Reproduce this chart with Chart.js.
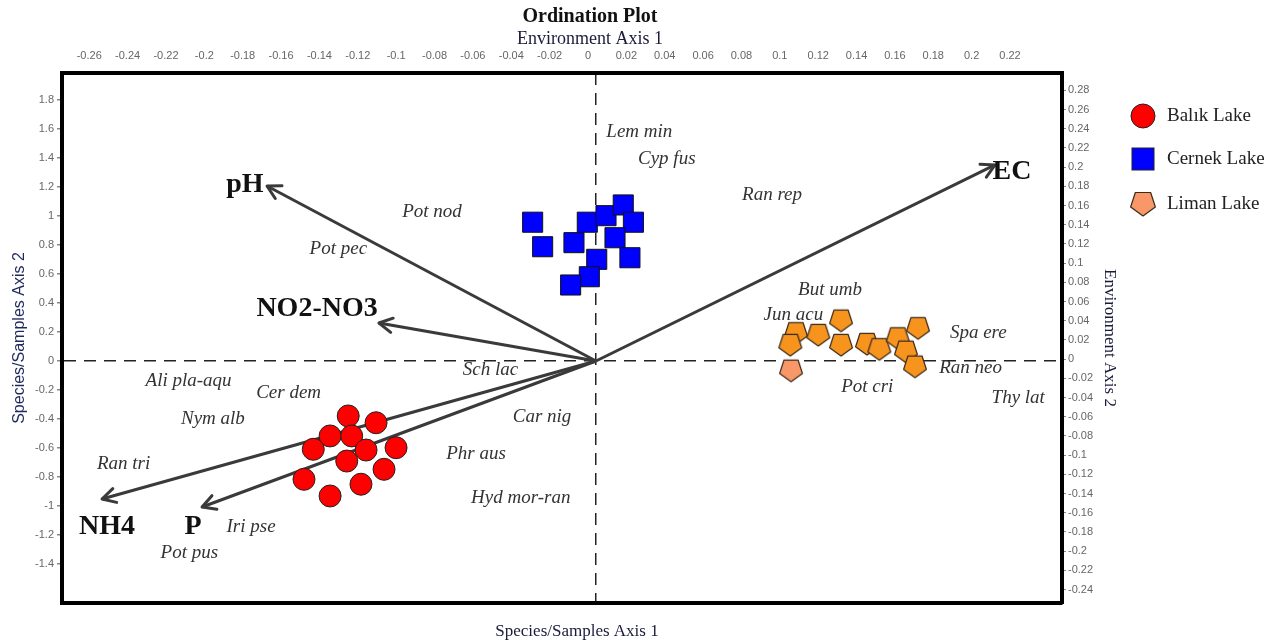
<!DOCTYPE html>
<html lang="en">
<head>
    <meta charset="UTF-8">
    <title>Ordination Plot</title>
    <script src="https://cdn.jsdelivr.net/npm/chart.js"></script>
    <style>
        body {
            margin: 0;
            background: #ffffff;
        }
        #wrap {
            width: 1279px;
            height: 643px;
            position: relative;
        }
    </style>
</head>
<body>
    <div id="wrap">
        <canvas id="ordChart"></canvas>
    </div>

    <script>
        // sample scores (Species/Samples axes)
        const balikX = [-1.709, -1.517, -1.834, -1.685, -1.950, -1.586, -1.379, -1.719, -1.462, -2.014, -1.621, -1.834];
        const balikY = [-0.379, -0.426, -0.517, -0.517, -0.609, -0.614, -0.598, -0.690, -0.747, -0.816, -0.850, -0.931];
        const cernekX = [-0.437, -0.368, -0.060, 0.069, 0.188, 0.258, -0.152, 0.131, 0.005, 0.234, -0.046, -0.175];
        const cernekY = [0.957, 0.788, 0.957, 1.002, 1.076, 0.957, 0.816, 0.850, 0.701, 0.712, 0.581, 0.524];
        const limanX = [1.690, 1.379, 1.533, 2.221, 1.340, 1.690, 1.869, 1.954, 2.081, 2.138, 2.200, 1.345];
        const limanY = [0.278, 0.191, 0.179, 0.226, 0.110, 0.110, 0.117, 0.081, 0.156, 0.064, -0.039, -0.067];

        // species scores
        const speciesNames = ['Lem min', 'Cyp fus', 'Ran rep', 'Pot nod', 'Pot pec', 'But umb', 'Jun acu', 'Spa ere',
            'Ran neo', 'Thy lat', 'Pot cri', 'Sch lac', 'Car nig', 'Ali pla-aqu', 'Cer dem', 'Nym alb', 'Ran tri',
            'Phr aus', 'Hyd mor-ran', 'Iri pse', 'Pot pus'];
        const speciesX = [0.299, 0.488, 1.214, -1.131, -1.777, 1.614, 1.361, 2.637, 2.584, 2.912, 1.871, -0.728,
            -0.372, -2.810, -2.120, -2.642, -3.258, -0.828, -0.519, -2.379, -2.805];
        const speciesY = [1.581, 1.391, 1.145, 1.028, 0.770, 0.490, 0.317, 0.191, -0.050, -0.253, -0.177, -0.062,
            -0.384, -0.136, -0.219, -0.402, -0.710, -0.641, -0.947, -1.143, -1.322];

        // environmental arrows
        const envNames = ['pH', 'EC', 'NO2-NO3', 'NH4', 'P'];
        const envTipX = [-2.269, 2.752, -1.497, -3.407, -2.717];
        const envTipY = [1.207, 1.352, 0.262, -0.952, -1.007];
        const envLabelX = [-2.421, 2.869, -1.924, -3.372, -2.779];
        const envLabelY = [1.214, 1.303, 0.359, -1.143, -1.143];

        // tick labels
        const leftTicks = [1.8, 1.6, 1.4, 1.2, 1, 0.8, 0.6, 0.4, 0.2, 0, -0.2, -0.4, -0.6, -0.8, -1, -1.2, -1.4];
        const topTicks = [-0.26, -0.24, -0.22, -0.2, -0.18, -0.16, -0.14, -0.12, -0.1, -0.08, -0.06, -0.04, -0.02,
            0, 0.02, 0.04, 0.06, 0.08, 0.1, 0.12, 0.14, 0.16, 0.18, 0.2, 0.22];
        const rightTicks = [0.28, 0.26, 0.24, 0.22, 0.2, 0.18, 0.16, 0.14, 0.12, 0.1, 0.08, 0.06, 0.04, 0.02, 0,
            -0.02, -0.04, -0.06, -0.08, -0.1, -0.12, -0.14, -0.16, -0.18, -0.2, -0.22, -0.24];

        const limanFaded = [false, false, false, false, false, false, false, false, false, false, false, true];

        const serif = "'Liberation Serif', 'Times New Roman', serif";
        const sans = "'Liberation Sans', Arial, sans-serif";
        const tickFont = { family: sans, size: 11 };

        // pentagon marker (point down) as an image point style
        function makePentagon(fill, size) {
            const c = document.createElement('canvas');
            c.width = size + 4;
            c.height = size + 4;
            const g = c.getContext('2d');
            const cx = c.width / 2, cy = c.height / 2 - 1, r = size / 2;
            g.beginPath();
            for (let k = 0; k < 5; k++) {
                const a = Math.PI / 2 + k * 2 * Math.PI / 5;
                const px = cx + r * Math.cos(a), py = cy + r * Math.sin(a);
                if (k === 0) g.moveTo(px, py); else g.lineTo(px, py);
            }
            g.closePath();
            g.lineJoin = 'round';
            g.fillStyle = fill;
            g.fill();
            g.lineWidth = 1.2;
            g.strokeStyle = '#3a2a1a';
            g.stroke();
            return c;
        }
        const pentOrange = makePentagon('#f7941e', 24);
        const pentSalmon = makePentagon('#f89868', 24);
        const pentLegend = makePentagon('#f89868', 26);

        const toPoints = (xs, ys) => xs.map((x, i) => ({ x: x, y: ys[i] }));

        function fixTicks(values) {
            return function (axis) {
                axis.ticks = values.map(v => ({ value: v }));
            };
        }
        const fmt = v => parseFloat(Number(v).toFixed(2)).toString();

        const arrowSets = envNames.map((name, i) => ({
            type: 'line',
            label: name,
            data: [{ x: 0, y: 0 }, { x: envTipX[i], y: envTipY[i] }],
            borderColor: '#3a3a3a',
            borderWidth: 3,
            pointRadius: 0,
            fill: false,
            order: 5
        }));

        // arrowheads, labels, titles and legend
        const decorPlugin = {
            id: 'decor',
            afterDatasetsDraw(chart) {
                const c = chart.ctx;
                const sx = chart.scales.x, sy = chart.scales.y;
                const ox = sx.getPixelForValue(0), oy = sy.getPixelForValue(0);

                c.save();
                c.strokeStyle = '#3a3a3a';
                c.lineWidth = 3;
                c.lineCap = 'round';
                c.lineJoin = 'round';
                envNames.forEach((n, i) => {
                    const tx = sx.getPixelForValue(envTipX[i]);
                    const ty = sy.getPixelForValue(envTipY[i]);
                    const ang = Math.atan2(ty - oy, tx - ox);
                    const len = 15, spread = 0.5;
                    c.beginPath();
                    c.moveTo(tx - len * Math.cos(ang - spread), ty - len * Math.sin(ang - spread));
                    c.lineTo(tx, ty);
                    c.lineTo(tx - len * Math.cos(ang + spread), ty - len * Math.sin(ang + spread));
                    c.stroke();
                });

                c.textAlign = 'center';
                c.textBaseline = 'middle';
                c.fillStyle = '#333333';
                c.font = 'italic 19px ' + serif;
                speciesNames.forEach((n, i) => {
                    c.fillText(n, sx.getPixelForValue(speciesX[i]), sy.getPixelForValue(speciesY[i]));
                });

                c.fillStyle = '#111111';
                c.font = 'bold 28px ' + serif;
                envNames.forEach((n, i) => {
                    c.fillText(n, sx.getPixelForValue(envLabelX[i]), sy.getPixelForValue(envLabelY[i]));
                });
                c.restore();
            },
            afterDraw(chart) {
                const c = chart.ctx;
                c.save();
                c.textAlign = 'center';
                c.textBaseline = 'middle';
                c.fillStyle = '#111111';
                c.font = 'bold 20px ' + serif;
                c.fillText('Ordination Plot', 590, 17);
                c.fillStyle = '#1a1a3a';
                c.font = '18px ' + serif;
                c.fillText('Environment Axis 1', 590, 39);
                c.font = '17px ' + serif;
                c.fillText('Species/Samples Axis 1', 577, 632);

                // legend
                const lx = 1143, tx = 1167;
                const rows = [116, 159, 204];
                c.lineWidth = 1;
                c.strokeStyle = '#222222';
                c.fillStyle = '#ff0000';
                c.beginPath();
                c.arc(lx, rows[0], 12, 0, Math.PI * 2);
                c.fill();
                c.stroke();
                c.fillStyle = '#0000ff';
                c.fillRect(lx - 11, rows[1] - 11, 22, 22);
                c.strokeRect(lx - 11, rows[1] - 11, 22, 22);
                c.drawImage(pentLegend, lx - pentLegend.width / 2, rows[2] - pentLegend.height / 2);

                c.textAlign = 'left';
                c.fillStyle = '#222222';
                c.font = '19px ' + serif;
                c.fillText('Balık Lake', tx, rows[0]);
                c.fillText('Cernek Lake', tx, rows[1]);
                c.fillText('Liman Lake', tx, rows[2]);
                c.restore();
            }
        };

        const ctx = document.getElementById('ordChart').getContext('2d');
        const chart = new Chart(ctx, {
            type: 'scatter',
            data: {
                datasets: [
                    {
                        label: 'Balık Lake',
                        data: toPoints(balikX, balikY),
                        pointStyle: 'circle',
                        pointRadius: 11,
                        backgroundColor: '#ff0000',
                        borderColor: '#222222',
                        borderWidth: 1,
                        order: 0
                    },
                    {
                        label: 'Cernek Lake',
                        data: toPoints(cernekX, cernekY),
                        pointStyle: 'rect',
                        pointRadius: 14.2,
                        backgroundColor: '#0000ff',
                        borderColor: '#111111',
                        borderWidth: 1,
                        order: 0
                    },
                    {
                        label: 'Liman Lake',
                        data: toPoints(limanX, limanY),
                        pointStyle: limanFaded.map(f => f ? pentSalmon : pentOrange),
                        pointRadius: 11,
                        backgroundColor: '#f7941e',
                        order: 0
                    },
                    ...arrowSets
                ]
            },
            options: {
                responsive: true,
                maintainAspectRatio: false,
                animation: false,
                layout: { padding: { left: 0, right: 154, top: 0, bottom: 0 } },
                plugins: {
                    legend: { display: false },
                    title: { display: false },
                    tooltip: { enabled: false }
                },
                scales: {
                    x: {
                        type: 'linear',
                        position: 'bottom',
                        min: -3.683,
                        max: 3.214,
                        afterBuildTicks: fixTicks([0]),
                        afterFit: s => { s.height = 40; },
                        ticks: { display: false },
                        grid: { color: '#222222', lineWidth: 1.5, drawTicks: false },
                        border: { display: true, color: '#000000', width: 4, dash: [12, 8] }
                    },
                    y: {
                        type: 'linear',
                        position: 'left',
                        min: -1.669,
                        max: 1.986,
                        afterBuildTicks: fixTicks(leftTicks),
                        afterFit: s => { s.width = 62; },
                        ticks: { font: tickFont, color: '#666666', padding: 3, callback: fmt },
                        grid: {
                            color: c => (c.tick && c.tick.value === 0) ? '#222222' : 'rgba(0,0,0,0)',
                            lineWidth: 1.5,
                            tickColor: '#888888',
                            tickLength: 5
                        },
                        border: { display: true, color: '#000000', width: 4, dash: [12, 8] },
                        title: {
                            display: true,
                            text: 'Species/Samples Axis 2',
                            color: '#1f2a5c',
                            font: { family: sans, size: 16 },
                            padding: { top: 10, bottom: 0 }
                        }
                    },
                    x2: {
                        type: 'linear',
                        position: 'top',
                        min: -0.2742,
                        max: 0.2471,
                        afterBuildTicks: fixTicks(topTicks),
                        afterFit: s => { s.height = 73; },
                        ticks: { font: tickFont, color: '#666666', padding: 10, maxRotation: 0, autoSkip: false, callback: fmt },
                        grid: { drawOnChartArea: false, drawTicks: false },
                        border: { display: true, color: '#000000', width: 4 }
                    },
                    y2: {
                        type: 'linear',
                        position: 'right',
                        min: -0.254,
                        max: 0.298,
                        afterBuildTicks: fixTicks(rightTicks),
                        afterFit: s => { s.width = 63; },
                        ticks: { font: tickFont, color: '#666666', padding: 2, autoSkip: false, callback: fmt },
                        grid: { drawOnChartArea: false, tickColor: '#888888', tickLength: 4 },
                        border: { display: true, color: '#000000', width: 4 },
                        title: {
                            display: true,
                            text: 'Environment Axis 2',
                            color: '#1a1a3a',
                            font: { family: serif, size: 17 },
                            padding: { top: 5, bottom: 0 }
                        }
                    }
                }
            },
            plugins: [decorPlugin]
        });
    </script>
</body>
</html>
